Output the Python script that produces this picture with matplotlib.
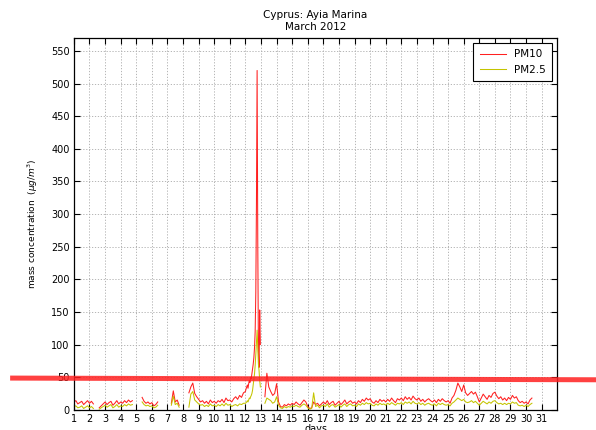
import numpy as np
import matplotlib
matplotlib.use("Agg")
import matplotlib.pyplot as plt
import matplotlib.transforms as mtransforms

# ---- data: contiguous measurement segments (start day, step in days, values) ----
seg_starts = [1.0, 2.625, 5.375, 7.25, 8.375, 12.0, 13.25]
seg_steps = [0.125, 0.125, 0.125, 0.125, 0.125, 1 / 24, 0.125]

pm10_s1 = [12, 14, 9, 11, 13, 8, 11, 14, 10, 13, 9]
pm25_s1 = [5, 6, 3, 4, 6, 2, 4, 6, 3, 5, 2]

pm10_s2 = [3, 6, 9, 12, 8, 11, 13, 7, 10, 14, 9, 12, 10, 14, 11, 15, 12, 14]
pm25_s2 = [1, 3, 5, 7, 4, 6, 8, 3, 5, 8, 4, 6, 5, 8, 6, 9, 7, 8]

pm10_s3 = [19, 13, 10, 12, 9, 11, 6, 8, 12]
pm25_s3 = [12, 8, 6, 7, 5, 6, 3, 4, 7]

pm10_s4 = [10, 29, 12, 15, 7]
pm25_s4 = [7, 21, 8, 10, 4]

pm10_s5 = [26, 35, 41, 25, 20, 16, 12, 14, 10, 13, 9, 15, 11, 13, 10, 14,
           12, 16, 11, 18, 14, 15, 12, 17, 20, 16, 22, 19, 26]
pm25_s5 = [4, 24, 28, 15, 12, 9, 7, 8, 5, 7, 5, 9, 6, 7, 5, 8,
           6, 9, 6, 10, 7, 8, 5, 7, 8, 6, 9, 8, 10]

pm10_s6 = [28, 32, 35, 38, 33, 40, 45, 42, 50, 48, 55, 62, 70, 80, 95, 120,
           180, 320, 520, 260, 90, 65, 153, 100]
pm25_s6 = [10, 11, 12, 14, 12, 15, 18, 17, 20, 22, 25, 30, 38, 45, 55, 68,
           85, 105, 122, 95, 70, 60, 45, 35]

pm10_s7 = [20, 56, 35, 28, 22, 25,
           40, 12, 5, 4, 8, 6, 9, 7,
           10, 8, 12, 9, 7, 11, 15, 12,
           5, 2, 3, 12, 8, 10, 6, 9,
           12, 9, 14, 8, 11, 13, 7, 10,
           13, 8, 11, 15, 9, 12, 14, 10,
           12, 9, 14, 11, 16, 13, 18, 15,
           17, 12, 10, 14, 11, 16, 13, 15,
           12, 16, 13, 18, 14, 11, 17, 15,
           18, 14, 20, 16, 19, 15, 21, 17,
           15, 18, 13, 16, 12, 15, 17, 14,
           12, 15, 11, 16, 13, 17, 14, 12,
           14, 10, 18, 22, 30, 41, 35, 28,
           38, 26, 22, 25, 28, 24, 27, 20,
           12, 18, 24, 20, 16, 22, 19, 25,
           27, 21, 17, 20, 15, 18, 14, 19,
           16, 22, 18, 20, 14, 11, 13, 10,
           12, 9, 15, 18]
pm25_s7 = [10, 18, 16, 14, 10, 12,
           20, 7, 3, 2, 5, 3, 5, 4,
           6, 5, 7, 5, 4, 7, 9, 7,
           3, 1, 2, 26, 5, 7, 3, 6,
           7, 5, 9, 4, 7, 8, 4, 6,
           8, 4, 7, 9, 5, 8, 9, 6,
           7, 5, 9, 7, 10, 8, 11, 9,
           10, 7, 6, 9, 7, 10, 8, 9,
           7, 10, 8, 11, 9, 7, 10, 9,
           11, 8, 12, 10, 12, 9, 13, 10,
           9, 11, 8, 10, 7, 9, 10, 8,
           7, 9, 6, 10, 8, 10, 8, 7,
           8, 6, 10, 12, 15, 18, 16, 14,
           16, 12, 11, 12, 14, 11, 13, 10,
           7, 10, 13, 11, 9, 12, 10, 13,
           14, 11, 9, 10, 8, 10, 8, 10,
           9, 12, 10, 11, 7, 6, 7, 5,
           7, 5, 8, 10]

pm10_segs = [pm10_s1, pm10_s2, pm10_s3, pm10_s4, pm10_s5, pm10_s6, pm10_s7]
pm25_segs = [pm25_s1, pm25_s2, pm25_s3, pm25_s4, pm25_s5, pm25_s6, pm25_s7]

x_ticks = list(range(1, 32))
y_ticks = list(range(0, 551, 50))
limit_value = [48.6, 46.0]


def join(starts, steps, segs):
    ts, vs = [], []
    last = None
    for s, st, v in zip(starts, steps, segs):
        t = s + np.arange(len(v)) * st
        if last is not None and t[0] - last > 0.2:
            ts.append(np.array([np.nan]))
            vs.append(np.array([np.nan]))
        ts.append(t)
        vs.append(np.asarray(v, dtype=float))
        last = t[-1]
    return np.concatenate(ts), np.concatenate(vs)


t10, v10 = join(seg_starts, seg_steps, pm10_segs)
t25, v25 = join(seg_starts, seg_steps, pm25_segs)

fig = plt.figure(figsize=(5.96, 4.30), dpi=100)
ax = fig.add_axes([0.124, 0.047, 0.811, 0.865])

ax.plot(t10, v10, color="#ff2020", lw=0.75, label="PM10")
ax.plot(t25, v25, color="#c4c400", lw=0.75, label="PM2.5")

ax.set_xlim(1, 32)
ax.set_ylim(0, 570)
ax.set_xticks(x_ticks)
ax.set_yticks(y_ticks)
ax.tick_params(direction="in", top=True, right=True, labelsize=7, length=4, pad=3)
ax.grid(True, linestyle=(0, (1.5, 2)), color="#aaaaaa", lw=0.6)
for sp in ax.spines.values():
    sp.set_linewidth(0.9)

ax.set_title("Cyprus: Ayia Marina\nMarch 2012", fontsize=7.5, pad=6)
ax.set_xlabel("days", fontsize=7, labelpad=0)
ax.set_ylabel("mass concentration  $(\\mu g/m^3)$", fontsize=6.5, labelpad=8)

leg = ax.legend(loc="upper right", fontsize=7.5, fancybox=False, framealpha=1,
                edgecolor="black", handlelength=2.5, borderpad=0.6)
leg.get_frame().set_linewidth(0.8)

trans = mtransforms.blended_transform_factory(fig.transFigure, ax.transData)
ax.plot([0.017, 1.0], limit_value, color="#ff2020", alpha=0.85, lw=3.6,
        transform=trans, clip_on=False, solid_capstyle="butt", zorder=5)

fig.savefig("out.png", dpi=100)
